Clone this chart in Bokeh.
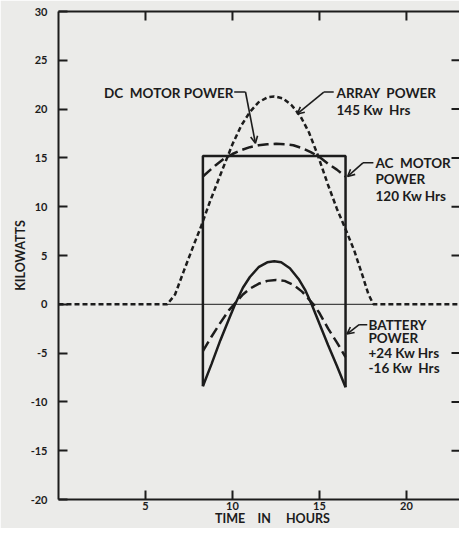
from bokeh.plotting import figure
from bokeh.models import Range1d, LinearAxis, FixedTicker, Label, Arrow, OpenHead
from bokeh.embed import file_html
from bokeh.resources import INLINE

# ---- data ----
array_hours = [0, 6.25, 6.7, 7.2, 7.8, 8.2, 8.7, 9.4, 10.0, 10.5, 11.0, 11.5, 12.0, 12.4,
               12.9, 13.4, 13.9, 14.4, 14.9, 15.5, 16.0, 16.5, 17.0, 17.5, 17.8, 18.1, 24]
array_kw = [0, 0, 1.0, 3.4, 6.2, 8.0, 10.5, 13.7, 16.4, 18.3, 19.7, 20.7, 21.2, 21.3,
            21.1, 20.4, 19.3, 17.6, 15.3, 12.2, 9.8, 7.7, 5.5, 2.8, 1.1, 0, 0]

dc_hours = [8.3, 9.0, 9.5, 10.0, 10.5, 11.0, 11.5, 12.0, 12.5, 13.0, 13.5, 14.0, 14.5,
            15.0, 15.5, 16.0, 16.5]
dc_kw = [13.1, 14.2, 14.9, 15.4, 15.8, 16.1, 16.3, 16.4, 16.45, 16.4, 16.3, 16.0, 15.6,
         15.1, 14.4, 13.8, 13.1]

bat_ac_hours = [8.3, 8.8, 9.3, 9.8, 10.15, 10.6, 11.0, 11.5, 12.0, 12.4, 12.8, 13.3, 13.8,
                14.2, 14.55, 15.0, 15.5, 16.0, 16.5]
bat_ac_kw = [-8.4, -6.1, -3.7, -1.5, 0, 1.7, 2.8, 3.8, 4.3, 4.4, 4.3, 3.7, 2.6,
             1.4, 0, -2.0, -4.2, -6.3, -8.5]

bat_dc_hours = [8.3, 8.8, 9.3, 9.8, 10.1, 10.6, 11.0, 11.5, 12.0, 12.5, 13.0, 13.5, 14.0,
                14.65, 15.0, 15.5, 16.0, 16.5]
bat_dc_kw = [-4.8, -3.3, -1.9, -0.6, 0, 1.0, 1.6, 2.1, 2.4, 2.5, 2.4, 2.0, 1.3,
             0, -0.9, -2.5, -3.9, -5.4]

ac_hours = [8.3, 16.5]
ac_kw = 15.2

zero_span_hours = [6.25, 18.1]

x_ticks = [5, 10, 15, 20]
y_ticks = [-20, -15, -10, -5, 0, 5, 10, 15, 20, 25, 30]
y_tick_labels = {t: str(t) for t in y_ticks}
right_ticks = [-15, -10, -5, 5, 10, 15, 20, 25]

INK = "#1c1c1c"
BG = "#ebebe9"
FONT = "Lato"
NB = "\u00a0"

X_START, X_END = 0, 23.05
Y_START, Y_END = -20, 30
FRAME_W, FRAME_H = 459 - 58, 528 - 11 - 28

p = figure(width=459, height=528, output_backend="svg", toolbar_location=None,
           x_range=Range1d(X_START, X_END), y_range=Range1d(Y_START, Y_END),
           min_border_left=58, min_border_right=0, min_border_top=11, min_border_bottom=28)
p.background_fill_color = BG
p.border_fill_color = BG
p.outline_line_color = None
p.grid.visible = False

for ax in (p.xaxis[0], p.yaxis[0]):
    ax.axis_line_color = INK
    ax.axis_line_width = 2
    ax.major_tick_line_color = INK
    ax.major_tick_line_width = 2
    ax.major_tick_in = 9
    ax.major_tick_out = 0
    ax.minor_tick_line_color = None
    ax.major_label_text_font = FONT
    ax.major_label_text_font_style = "bold"
    ax.major_label_text_font_size = "11px"
    ax.major_label_text_color = INK
    ax.axis_label_text_font = FONT
    ax.axis_label_text_font_style = "bold"
    ax.axis_label_text_font_size = "12.5px"
    ax.axis_label_text_color = INK

p.xaxis.ticker = FixedTicker(ticks=x_ticks)
p.xaxis.major_label_standoff = 2
p.xaxis.axis_label = NB * 9 + "TIME" + NB * 4 + "IN" + NB * 5 + "HOURS"
p.xaxis.axis_label_standoff = -2
p.yaxis.ticker = FixedTicker(ticks=y_ticks)
p.yaxis.major_label_overrides = y_tick_labels
p.yaxis.major_label_standoff = 11
p.yaxis.axis_label = "KILOWATTS"
p.yaxis.axis_label_standoff = 0

# top border line (no labels)
top = LinearAxis(ticker=FixedTicker(ticks=[]), axis_line_color=INK, axis_line_width=2,
                 major_tick_line_color=None, minor_tick_line_color=None,
                 major_label_standoff=0)
p.add_layout(top, "above")

# inward tick marks on the top and right edges, placed from the tick lists
tick_dy = 9 * (Y_END - Y_START) / FRAME_H
tick_dx = 8 * (X_END - X_START) / FRAME_W
p.segment(x0=x_ticks, y0=[Y_END] * len(x_ticks), x1=x_ticks,
          y1=[Y_END - tick_dy] * len(x_ticks), line_color=INK, line_width=2)
p.segment(x0=[X_END - tick_dx] * len(right_ticks), y0=right_ticks,
          x1=[X_END] * len(right_ticks), y1=right_ticks, line_color=INK, line_width=2)

# thin zero line
p.line(zero_span_hours, [0, 0], line_color=INK, line_width=1)

# array power
p.line(array_hours, array_kw, line_color=INK, line_width=2.5, line_dash="5 3")
# DC motor power
p.line(dc_hours, dc_kw, line_color=INK, line_width=2.5, line_dash="11 5")
# battery with DC motor
p.line(bat_dc_hours, bat_dc_kw, line_color=INK, line_width=2.5, line_dash="11 5")
# AC motor power (box) + battery with AC motor
p.line([ac_hours[0], ac_hours[0], ac_hours[1], ac_hours[1]],
       [bat_ac_kw[0], ac_kw, ac_kw, bat_ac_kw[-1]], line_color=INK, line_width=2.5)
p.line(bat_ac_hours, bat_ac_kw, line_color=INK, line_width=2.5)

# ---- annotations ----
def lab(x, y, t, align="left", size="13.5px"):
    p.add_layout(Label(x=x, y=y, text=t, text_font=FONT, text_font_style="bold",
                       text_font_size=size, text_color=INK, text_align=align,
                       text_baseline="middle"))

def leader(x0, y0, xc, yc, xt, yt):
    p.add_layout(Arrow(x_start=x0, y_start=y0, x_end=xc, y_end=yc, end=None,
                       line_color=INK, line_width=1.6))
    p.add_layout(Arrow(x_start=xc, y_start=yc, x_end=xt, y_end=yt,
                       end=OpenHead(size=7, line_color=INK, line_width=1.6),
                       line_color=INK, line_width=1.6))

lab(10.06, 21.6, "DC" + NB * 2 + "MOTOR POWER", "right")
leader(10.1, 21.75, 10.75, 21.75, 11.32, 16.5)

lab(15.98, 21.6, "ARRAY" + NB * 2 + "POWER")
lab(15.98, 19.9, "145" + NB + "Kw" + NB * 2 + "Hrs")
leader(15.82, 21.75, 15.25, 21.75, 13.72, 19.5)

lab(18.22, 14.47, "AC" + NB * 2 + "MOTOR")
lab(18.22, 12.87, "POWER")
lab(18.22, 11.14, "120" + NB + "Kw" + NB + "Hrs")
leader(18.1, 14.5, 17.5, 14.5, 16.62, 13.1)

lab(17.82, -2.09, "BATTERY")
lab(17.82, -3.47, "POWER")
lab(17.82, -5.0, "+24" + NB + "Kw" + NB + "Hrs")
lab(17.82, -6.53, "-16" + NB + "Kw" + NB * 2 + "Hrs")
leader(17.75, -2.09, 17.28, -2.09, 16.58, -3.05)

open("out.html", "w").write(file_html(p, INLINE))
